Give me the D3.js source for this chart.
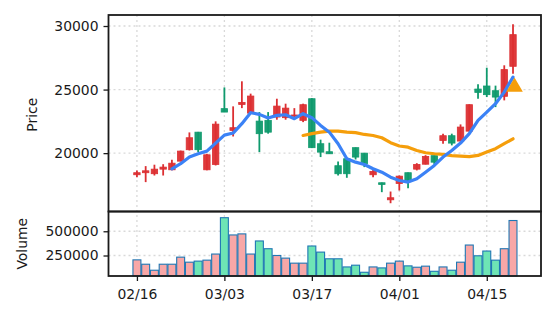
<!DOCTYPE html>
<html><head><meta charset="utf-8">
<script src="https://cdn.jsdelivr.net/npm/d3@7"></script>
<style>body{margin:0;background:#fff}svg{display:block}</style>
</head><body>
<script>
const dates = ["02/16","02/18","02/19","02/20","02/21","02/24","02/25","02/26","02/27","02/28",
  "03/03","03/04","03/05","03/06","03/07","03/10","03/11","03/12","03/13","03/14",
  "03/17","03/18","03/19","03/20","03/21","03/24","03/25","03/26","03/27","03/28",
  "04/01","04/02","04/03","04/04","04/07","04/08","04/09","04/10","04/11","04/14",
  "04/15","04/16","04/17","04/18"];
const open  = [18300,18460,18380,18740,18690,19370,20270,21650,18690,19110,23500,21790,23830,23150,22520,22580,22840,22790,22960,22580,24280,20740,20110,19010,19560,20430,20000,18300,17670,16330,17610,18460,18740,19130,19800,21000,21370,20950,21730,25040,25280,24910,24470,26830];
const high  = [18640,18980,19090,19130,19480,20200,21630,21670,19950,22500,25170,23680,25650,24680,23230,23230,24280,23890,23540,23890,24330,21060,20820,19350,19660,20450,20000,18770,17690,16980,18240,18480,19210,19840,19820,21530,21530,22260,23840,25410,26720,25310,26910,30130];
const low   = [18110,17720,18240,18240,18650,19350,20210,20080,18650,19030,23230,21310,23540,23130,20080,21530,22630,22630,22800,22440,20400,19690,19940,18240,18060,19500,18900,18110,16930,16060,17060,17240,18640,19110,19110,20740,20610,20920,21710,24280,24410,23620,24150,26250];
const close = [18460,18610,18740,18900,19210,20160,21210,20270,19870,22280,23230,22000,23990,24490,21530,21650,23700,23540,23000,23810,20430,20080,19950,18380,18380,19690,19170,18560,17540,16490,18190,17850,19110,19740,19290,21370,20790,22050,23810,24780,24600,24410,26570,29320];
const volume = [205000,160000,98000,160000,160000,233000,181000,192000,202000,265000,640000,462000,473000,265000,400000,320000,250000,223000,171000,171000,348000,285000,216000,216000,132000,150000,77000,132000,122000,171000,192000,143000,129000,140000,87000,132000,98000,181000,358000,247000,296000,202000,320000,611000];
const ma5 = [null,null,null,null,18770,19170,19690,19950,20160,20790,21420,21580,22320,23180,23050,22760,22970,23020,22710,23100,22790,22180,21650,20740,19560,19290,19110,18770,18500,18110,17850,17720,17980,18500,19030,19690,20210,20790,21530,22580,23230,23890,24800,25980];
const ma20 = [null,null,null,null,null,null,null,null,null,null,null,null,null,null,null,null,null,null,null,21390,21530,21650,21730,21730,21650,21610,21470,21390,21210,20820,20560,20470,20210,20030,19950,19900,19800,19760,19720,19820,20080,20350,20740,21130];
const signalIdx = [43];
const signalVal = [25200];
const priceTicks = [20000,25000,30000];
const volumeTicks = [250000,500000];
const dateTicks = ["02/16","03/03","03/17","04/01","04/15"];

const W=556,H=322;
const L=108.5,R=541,T=15,MID=211.5,B=276;
const svg=d3.select("body").append("svg").attr("width",W).attr("height",H);
svg.append("rect").attr("width",W).attr("height",H).attr("fill","#fff");
const font="DejaVu Sans, sans-serif";

const x=d3.scaleLinear().domain([-3.25,46.2]).range([L,R]);
const y=d3.scaleLinear().domain([15409,30866]).range([MID,T]);
const yv=d3.scaleLinear().domain([d3.min(volume)*0.5,d3.max(volume)*1.1]).range([B,MID]);
const step=x(1)-x(0);
const idx=d3.range(dates.length);
const tickIdx=dateTicks.map(d=>dates.indexOf(d));
const up=i=>close[i]>=open[i];
const RED="#dc2f32",GREEN="#0f9a6d";

// grids
const grid=svg.append("g").attr("stroke","#d9d9d9").attr("stroke-width",1.3).attr("stroke-dasharray","2,3");
tickIdx.forEach(i=>grid.append("line").attr("x1",x(i)).attr("x2",x(i)).attr("y1",T).attr("y2",B));
priceTicks.forEach(v=>grid.append("line").attr("x1",L).attr("x2",R).attr("y1",y(v)).attr("y2",y(v)));
volumeTicks.forEach(v=>grid.append("line").attr("x1",L).attr("x2",R).attr("y1",yv(v)).attr("y2",yv(v)));

// candles
const cg=svg.append("g");
idx.forEach(i=>{
  const c=up(i)?RED:GREEN;
  cg.append("line").attr("x1",x(i)).attr("x2",x(i)).attr("y1",y(high[i])).attr("y2",y(low[i])).attr("stroke",c).attr("stroke-width",1.8);
  const y0=y(Math.max(open[i],close[i])),y1=y(Math.min(open[i],close[i]));
  cg.append("rect").attr("x",x(i)-3.2).attr("width",6.4).attr("y",y0).attr("height",Math.max(1.2,y1-y0))
    .attr("fill",c).attr("fill-opacity",0.95).attr("stroke",c).attr("stroke-width",0.8);
});

// moving averages
const line=d3.line().defined(d=>d[1]!=null).x(d=>x(d[0])).y(d=>y(d[1]));
svg.append("path").attr("d",line(ma20.map((v,i)=>[i,v]))).attr("fill","none").attr("stroke","#f59e0b").attr("stroke-width",3.2).attr("stroke-linejoin","round").attr("stroke-linecap","round");
svg.append("path").attr("d",line(ma5.map((v,i)=>[i,v]))).attr("fill","none").attr("stroke","#3b82f6").attr("stroke-width",3.2).attr("stroke-linejoin","round").attr("stroke-linecap","round");

// signal markers
signalIdx.forEach((i,k)=>{
  svg.append("path").attr("d",d3.symbol().type(d3.symbolTriangle).size(120)())
    .attr("transform",`translate(${x(i)+1.5},${y(signalVal[k])})`).attr("fill","#f59e0b");
});

// volume bars
idx.forEach(i=>{
  svg.append("rect").attr("x",x(i)-step/2+0.4).attr("width",step-0.8).attr("y",yv(volume[i])).attr("height",B-yv(volume[i]))
    .attr("fill",up(i)?"#f8a7a7":"#6ee5b5").attr("stroke","#1f77b4").attr("stroke-width",1.1);
});

// frames
const fr=svg.append("g").attr("fill","none").attr("stroke","#1a1a1a").attr("stroke-width",1.8);
fr.append("rect").attr("x",L).attr("y",T).attr("width",R-L).attr("height",MID-T);
fr.append("rect").attr("x",L).attr("y",MID).attr("width",R-L).attr("height",B-MID);

// axes
function style(g){g.select(".domain").remove();g.selectAll("line").attr("stroke","#1a1a1a").attr("stroke-width",1.3);
  g.selectAll("text").attr("font-family",font).attr("font-size","13.9px").attr("fill","#1a1a1a");}
svg.append("g").attr("transform",`translate(${L},0)`).call(d3.axisLeft(y).tickValues(priceTicks).tickFormat(d3.format("d")).tickSize(5).tickPadding(5)).call(style);
svg.append("g").attr("transform",`translate(${L},0)`).call(d3.axisLeft(yv).tickValues(volumeTicks).tickFormat(d3.format("d")).tickSize(5).tickPadding(5)).call(style);
svg.append("g").attr("transform",`translate(0,${B})`).call(d3.axisBottom(x).tickValues(tickIdx).tickFormat(i=>dates[i]).tickSize(5).tickPadding(8)).call(style);

svg.append("text").attr("transform",`translate(37,${(T+MID)/2+1.5}) rotate(-90)`).attr("text-anchor","middle")
  .attr("font-family",font).attr("font-size","13.9px").attr("fill","#1a1a1a").text("Price");
svg.append("text").attr("transform",`translate(27,${(MID+B)/2}) rotate(-90)`).attr("text-anchor","middle")
  .attr("font-family",font).attr("font-size","13.9px").attr("fill","#1a1a1a").text("Volume");
</script>
</body></html>
